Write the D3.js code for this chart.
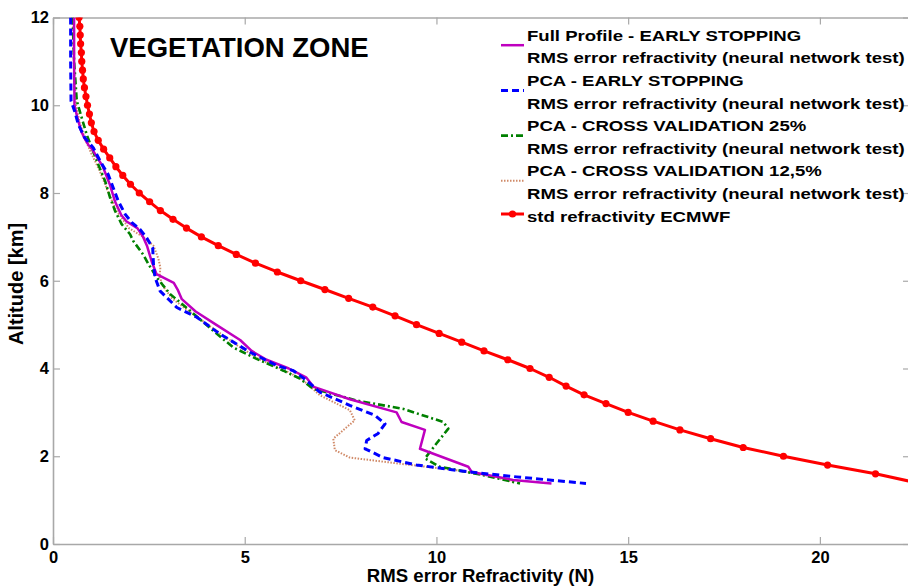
<!DOCTYPE html>
<html>
<head>
<meta charset="utf-8">
<script src="https://cdn.jsdelivr.net/npm/d3@7"></script>
<style>
  html, body { margin: 0; padding: 0; background: #fff; }
  svg { display: block; font-family: "Liberation Sans", Arial, sans-serif; }
</style>
</head>
<body>
<svg id="chart" width="908" height="588"></svg>
<script>
// ---------------- DATA ----------------
const xTicks = [0, 5, 10, 15, 20];
const yTicks = [0, 2, 4, 6, 8, 10, 12];

const titleText = "VEGETATION ZONE";
const xLabel = "RMS error Refractivity (N)";
const yLabel = "Altitude [km]";

const legendNames = [
  ["Full Profile - EARLY STOPPING", "RMS error refractivity (neural network test)"],
  ["PCA - EARLY STOPPING", "RMS error refractivity (neural network test)"],
  ["PCA - CROSS VALIDATION 25%", "RMS error refractivity (neural network test)"],
  ["PCA - CROSS VALIDATION 12,5%", "RMS error refractivity (neural network test)"],
  ["std refractivity ECMWF"]
];

// Full Profile - EARLY STOPPING (magenta)
const fullAlt = [12.0, 11.0, 10.0, 9.7, 9.4, 9.25, 9.1, 9.0, 8.6, 8.2, 7.8, 7.5, 7.35, 7.2, 7.0, 6.8, 6.45, 6.15, 5.95, 5.8, 5.58, 5.3, 5.0, 4.65, 4.4, 4.2, 4.0, 3.8, 3.58, 3.3, 3.0, 2.78, 2.6, 2.17, 1.76, 1.64, 1.46, 1.38];
const fullVal = [0.55, 0.55, 0.56, 0.64, 0.74, 0.82, 0.92, 1.02, 1.30, 1.48, 1.62, 1.78, 1.92, 2.20, 2.35, 2.45, 2.57, 2.70, 3.15, 3.25, 3.36, 3.72, 4.25, 4.88, 5.18, 5.57, 6.15, 6.60, 6.80, 7.74, 8.96, 9.09, 9.70, 9.57, 10.83, 10.92, 12.0, 13.0];

// PCA - EARLY STOPPING (blue dashed)
const pcaEsAlt = [12.0, 11.0, 10.1, 9.85, 9.56, 9.26, 9.03, 8.73, 8.42, 8.12, 7.82, 7.52, 7.33, 7.17, 6.98, 6.75, 6.38, 6.08, 5.77, 5.39, 5.17, 4.79, 4.37, 4.07, 3.95, 3.73, 3.46, 3.16, 2.93, 2.74, 2.52, 2.36, 2.17, 1.97, 1.80, 1.64, 1.53, 1.38];
const pcaEsVal = [0.46, 0.46, 0.47, 0.57, 0.66, 0.83, 1.05, 1.23, 1.44, 1.57, 1.70, 1.88, 2.05, 2.27, 2.44, 2.60, 2.62, 2.66, 2.79, 3.23, 3.75, 4.35, 5.14, 5.83, 6.27, 6.61, 6.96, 7.74, 8.40, 8.66, 8.48, 8.18, 8.14, 8.61, 9.48, 10.87, 12.09, 13.9];

// PCA - CROSS VALIDATION 25% (green dash-dot)
const pcaCv25Alt = [12.0, 11.0, 10.1, 9.71, 9.33, 9.03, 8.65, 8.27, 7.89, 7.59, 7.29, 7.06, 6.91, 6.6, 6.38, 6.08, 5.70, 5.32, 4.86, 4.48, 4.22, 3.95, 3.77, 3.54, 3.27, 3.08, 2.78, 2.63, 2.29, 1.95, 1.76, 1.57, 1.38];
const pcaCv25Val = [0.51, 0.55, 0.62, 0.75, 0.88, 1.01, 1.18, 1.36, 1.49, 1.62, 1.79, 2.01, 2.09, 2.35, 2.49, 2.70, 3.05, 3.57, 4.18, 4.70, 5.31, 6.01, 6.44, 6.78, 7.92, 9.13, 10.18, 10.31, 10.0, 9.70, 10.09, 11.22, 12.18];

// PCA - CROSS VALIDATION 12,5% (brown dotted)
const pcaCv12Alt = [12.0, 11.0, 10.0, 9.6, 9.2, 8.9, 8.5, 8.0, 7.6, 7.2, 7.0, 6.8, 6.5, 6.3, 6.1, 5.9, 5.6, 5.3, 4.9, 4.5, 4.2, 4.0, 3.75, 3.55, 3.39, 3.05, 2.82, 2.40, 2.14, 1.97, 1.83, 1.68, 1.55, 1.42];
const pcaCv12Val = [0.52, 0.54, 0.60, 0.70, 0.85, 1.00, 1.22, 1.45, 1.65, 1.98, 2.35, 2.62, 2.75, 2.80, 2.78, 2.85, 3.10, 3.55, 4.20, 4.85, 5.40, 5.95, 6.50, 6.75, 6.96, 7.74, 7.87, 7.31, 7.35, 7.74, 9.05, 10.53, 11.40, 12.0];

// std refractivity ECMWF (red with markers)
const ecmwfAlt = [12.0, 11.8, 11.6, 11.4, 11.2, 11.0, 10.8, 10.6, 10.4, 10.2, 10.0, 9.8, 9.6, 9.4, 9.2, 9.0, 8.8, 8.6, 8.4, 8.2, 8.0, 7.8, 7.6, 7.4, 7.2, 7.0, 6.8, 6.6, 6.4, 6.2, 6.0, 5.8, 5.6, 5.4, 5.2, 5.0, 4.8, 4.6, 4.4, 4.2, 4.0, 3.8, 3.6, 3.4, 3.2, 3.0, 2.8, 2.6, 2.4, 2.2, 2.0, 1.8, 1.6, 1.4];
const ecmwfVal = [0.68, 0.70, 0.71, 0.72, 0.74, 0.75, 0.77, 0.79, 0.82, 0.86, 0.90, 0.95, 1.00, 1.07, 1.18, 1.32, 1.48, 1.64, 1.82, 2.02, 2.25, 2.52, 2.80, 3.13, 3.48, 3.87, 4.31, 4.78, 5.28, 5.85, 6.46, 7.09, 7.71, 8.34, 8.92, 9.48, 10.07, 10.66, 11.24, 11.86, 12.44, 12.94, 13.38, 13.85, 14.42, 15.0, 15.65, 16.35, 17.15, 18.0, 19.05, 20.2, 21.45, 22.5];

// ---------------- CHART ----------------
const svg = d3.select("#chart");
const FONT = '"Liberation Sans", Arial, sans-serif';
const L = 53, R = 910, T = 17.5, B = 544;

const x = d3.scaleLinear().domain([0, 22.35]).range([L, R]);
const y = d3.scaleLinear().domain([0, 12]).range([B, T]);

const axisColor = "#a8a8a8";

// clip
svg.append("defs").append("clipPath").attr("id", "plotclip")
  .append("rect").attr("x", L).attr("y", T).attr("width", R - L).attr("height", B - T);

// axes
function styleAxis(g, showText) {
  g.select(".domain").attr("stroke", axisColor).attr("stroke-width", 1.6);
  g.selectAll(".tick line").attr("stroke", axisColor).attr("stroke-width", 1.2);
  g.selectAll(".tick text")
    .attr("fill", "#000")
    .style("font-family", FONT)
    .style("font-weight", "bold")
    .style("font-size", "16.5px")
    .style("display", showText ? null : "none");
}

svg.append("g").attr("transform", `translate(0,${B})`)
  .call(d3.axisBottom(x).tickValues(xTicks).tickFormat(d3.format("d")).tickSizeInner(-7).tickSizeOuter(0).tickPadding(7))
  .call(g => styleAxis(g, true));
svg.append("g").attr("transform", `translate(0,${T})`)
  .call(d3.axisTop(x).tickValues(xTicks).tickSizeInner(-7).tickSizeOuter(0))
  .call(g => styleAxis(g, false));
svg.append("g").attr("transform", `translate(${L},0)`)
  .call(d3.axisLeft(y).tickValues(yTicks).tickFormat(d3.format("d")).tickSizeInner(-7).tickSizeOuter(0).tickPadding(4))
  .call(g => styleAxis(g, true));
svg.append("g").attr("transform", `translate(${R},0)`)
  .call(d3.axisRight(y).tickValues(yTicks).tickSizeInner(-7).tickSizeOuter(0))
  .call(g => styleAxis(g, false));

// series
const series = [
  { alt: fullAlt, val: fullVal, color: "#bf00bf", width: 2.5, dash: null },
  { alt: pcaEsAlt, val: pcaEsVal, color: "#0000ff", width: 3, dash: "7,4" },
  { alt: pcaCv25Alt, val: pcaCv25Val, color: "#008000", width: 2.6, dash: "7,3,2,3" },
  { alt: pcaCv12Alt, val: pcaCv12Val, color: "#d08a68", width: 2, dash: "1.5,1.5" },
  { alt: ecmwfAlt, val: ecmwfVal, color: "#ff0000", width: 3, dash: null, marker: true }
];

const line = d3.line().x(d => x(d[0])).y(d => y(d[1]));
const plot = svg.append("g").attr("clip-path", "url(#plotclip)");

const order = [4, 3, 2, 0, 1];
order.forEach(i => {
  const s = series[i];
  const pts = s.val.map((v, k) => [v, s.alt[k]]);
  plot.append("path")
    .attr("d", line(pts))
    .attr("fill", "none")
    .attr("stroke", s.color)
    .attr("stroke-width", s.width)
    .attr("stroke-linejoin", "round")
    .attr("stroke-dasharray", s.dash);
  if (s.marker) {
    plot.selectAll(null).data(pts).enter().append("circle")
      .attr("cx", d => x(d[0])).attr("cy", d => y(d[1]))
      .attr("r", 3.6).attr("fill", s.color);
  }
});

// title
svg.append("text")
  .attr("x", 110).attr("y", 57)
  .style("font-family", FONT).style("font-weight", "bold").style("font-size", "27.5px")
  .attr("fill", "#000")
  .text(titleText);

// axis labels
svg.append("text")
  .attr("x", (L + 908) / 2).attr("y", 582)
  .attr("text-anchor", "middle")
  .style("font-family", FONT).style("font-weight", "bold").style("font-size", "18.6px")
  .attr("fill", "#000")
  .text(xLabel);

svg.append("text")
  .attr("transform", "translate(23,284) rotate(-90)")
  .attr("text-anchor", "middle")
  .style("font-family", FONT).style("font-weight", "bold").style("font-size", "20px")
  .attr("fill", "#000")
  .text(yLabel);

// legend
const leg = svg.append("g");
const textX = 527, symX0 = 501, symX1 = 524;
const base0 = 40.7, lineStep = 22.6;
let row = 0;
const legTexts = [];
legendNames.forEach((names, i) => {
  const s = series[i];
  const firstBase = base0 + row * lineStep;
  names.forEach((nm, j) => {
    const t = leg.append("text")
      .attr("x", 0).attr("y", 0)
      .attr("data-y", firstBase + j * lineStep)
      .style("font-family", FONT).style("font-weight", "bold").style("font-size", "15px")
      .attr("fill", "#000")
      .text(nm);
    legTexts.push(t);
  });
  const symY = names.length > 1 ? firstBase + 4.5 : firstBase - 7.5;
  leg.append("line")
    .attr("x1", symX0).attr("x2", symX1).attr("y1", symY).attr("y2", symY)
    .attr("stroke", s.color).attr("stroke-width", s.width)
    .attr("stroke-dasharray", s.dash);
  if (s.marker) {
    leg.append("circle").attr("cx", (symX0 + symX1) / 2).attr("cy", symY).attr("r", 3.6).attr("fill", s.color);
  }
  row += names.length;
});
const refW = 378;
const measured = legTexts[1].node().getComputedTextLength();
const sx = refW / measured;
legTexts.forEach(t => {
  t.attr("transform", `translate(${textX},${t.attr("data-y")}) scale(${sx},1)`);
});
</script>
</body>
</html>
